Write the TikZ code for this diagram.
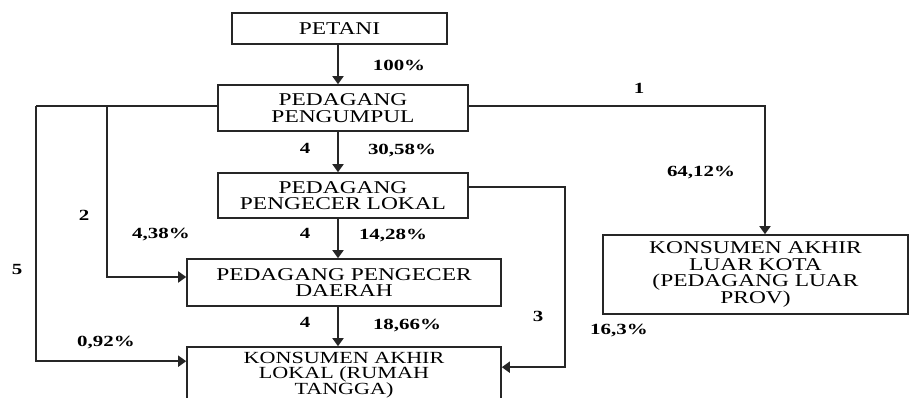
\documentclass[tikz,border=0pt]{standalone}
\usepackage{fontspec}
\usetikzlibrary{arrows.meta,calc}
\newfontfamily\boxfont[FakeStretch=1.3]{Liberation Serif}
\newfontfamily\lblfont[FakeStretch=1.35]{Liberation Serif}
\begin{document}
\begin{tikzpicture}[x=1pt,y=-1pt,
  box/.style={draw=black!85,line width=1.6pt,rectangle,inner sep=0pt,align=center,
    font=\boxfont\fontsize{18}{16.5}\selectfont},
  flow/.style={draw=black!85,line width=1.7pt,-{Triangle[width=11pt,length=8pt]}},
  plain/.style={draw=black!85,line width=1.7pt},
  lbl/.style={inner sep=0pt,font=\lblfont\bfseries\fontsize{15.5}{16}\selectfont}]
\path[use as bounding box] (0,0) rectangle (909,398);
\clip (0,0) rectangle (909,398);
\fill[white] (0,0) rectangle (909,398);

% boxes
\node[box,minimum width=215pt,minimum height=31pt] (petani) at (339.5,28.5) {PETANI};
\node[box,minimum width=250pt,minimum height=46pt] (pengumpul) at (343,108) {PEDAGANG\\PENGUMPUL};
\node[box,minimum width=250pt,minimum height=45pt] (lokal) at (343,195.5) {PEDAGANG\\PENGECER LOKAL};
\node[box,minimum width=314pt,minimum height=47pt] (daerah) at (344,282.5) {PEDAGANG PENGECER\\DAERAH};
\node[box,minimum width=314pt,minimum height=56pt,
  font=\boxfont\fontsize{17}{15.5}\selectfont] (konsumen) at (344,375) {KONSUMEN AKHIR\\LOKAL (RUMAH\\TANGGA)};
\node[box,minimum width=305pt,minimum height=79pt] (luar) at (755.5,274.5) {KONSUMEN AKHIR\\LUAR KOTA\\(PEDAGANG LUAR\\PROV)};

% helper points
\coordinate (axis) at (338,0);
\coordinate (c5) at (36,106);
\coordinate (c2) at (107,106);
\coordinate (c3) at (565,0);
\coordinate (c1) at (765,0);
\coordinate (kin5) at ($(konsumen.north west)+(0,15)$);
\coordinate (din2) at ($(daerah.west)+(0,-5.5)$);
\coordinate (lout3) at ($(lokal.east)+(0,-8.5)$);
\coordinate (kin3) at ($(konsumen.north east)+(0,21)$);

% main chain
\draw[flow] (petani.south -| axis) -- (pengumpul.north -| axis);
\draw[flow] (pengumpul.south -| axis) -- (lokal.north -| axis);
\draw[flow] (lokal.south -| axis) -- (daerah.north -| axis);
\draw[flow] (daerah.south -| axis) -- (konsumen.north -| axis);

% side channels
\draw[plain] (pengumpul.west |- c5) -- (c5);
\draw[flow] (c5) -- (c5 |- kin5) -- (kin5);
\draw[flow] (c2) -- (c2 |- din2) -- (din2);
\draw[flow] (lout3) -- (lout3 -| c3) -- (c3 |- kin3) -- (kin3);
\draw[flow] (pengumpul.east |- c2) -- (c1 |- c2) -- (luar.north -| c1);

% channel numbers and shares
\node[lbl] (p100) at (399,65) {100\%};
\node[lbl] (n4a) at (305,148) {4};
\node[lbl] (p3058) at (402,151) {30,58\%};
\node[lbl] (n2) at (84,215) {2};
\node[lbl] (p438) at (161,235) {4,38\%};
\node[lbl] (n4b) at (305,233) {4};
\node[lbl] (p1428) at (393,236) {14,28\%};
\node[lbl] (n5) at (17,269) {5};
\node[lbl] (n4c) at (305,322) {4};
\node[lbl] (p1866) at (407,326) {18,66\%};
\node[lbl] (p092) at (106,343) {0,92\%};
\node[lbl] (n1) at (639,88) {1};
\node[lbl] (p6412) at (701,173) {64,12\%};
\node[lbl] (n3) at (538,316) {3};
\node[lbl] (p163) at (619,331) {16,3\%};
\end{tikzpicture}
\end{document}
